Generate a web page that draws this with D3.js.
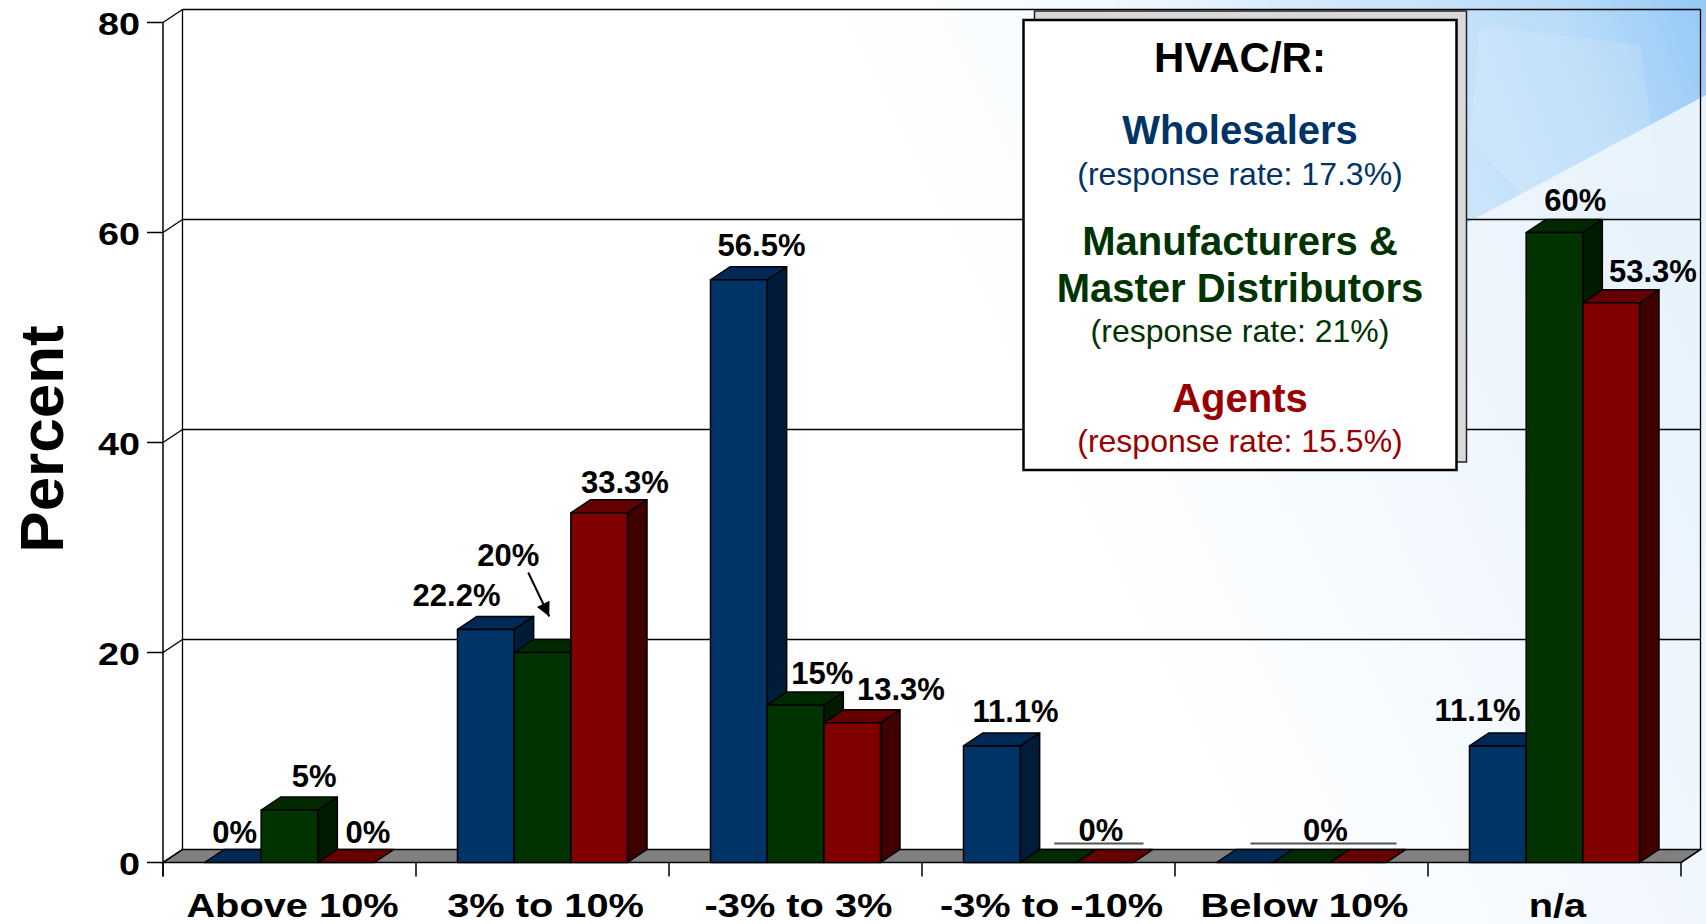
<!DOCTYPE html>
<html>
<head>
<meta charset="utf-8">
<script src="https://cdn.jsdelivr.net/npm/d3@7"></script>
<style>
  body { margin: 0; background: #fff; }
  svg { display: block; font-family: "Liberation Sans", Arial, sans-serif; }
</style>
</head>
<body>
<div id="chart"></div>
<script>
/* HVAC/R price change expectations - 3D clustered bars */

const categories = ["Above 10%", "3% to 10%", "-3% to 3%", "-3% to -10%", "Below 10%", "n/a"];
const seriesNames = ["Wholesalers", "Manufacturers &\nMaster Distributors", "Agents"];
const responseRates = ["17.3%", "21%", "15.5%"];
// bar heights as drawn
const wholesalers = [0, 22.2, 55.5, 11.1, 0, 11.1];
const manufacturers = [5, 20, 15, 0, 0, 60];
const agents = [0, 33.3, 13.3, 0, 0, 53.3];
// printed value labels
const wholesalerLabels = ["0%", "22.2%", "56.5%", "11.1%", "0%", "11.1%"];
const manufacturerLabels = ["5%", "20%", "15%", "0%", "0%", "60%"];
const agentLabels = ["0%", "33.3%", "13.3%", "0%", "0%", "53.3%"];
const yTicks = [0, 20, 40, 60, 80];

const series = [wholesalers, manufacturers, agents];
const seriesLabels = [wholesalerLabels, manufacturerLabels, agentLabels];

const width = 1706, height = 924;
const depthX = 19.5, depthY = -13; // 3d offset of the back wall

const frontColors = ["#003366", "#003300", "#800000"];
const topColors = ["#002a55", "#002900", "#640000"];
const sideColors = ["#001c38", "#001b00", "#400000"];
const legendColors = ["#003366", "#003300", "#990000"];

// hand placed label tweaks (like dragged labels in the original deck)
const labelNudge = {
  "0-0": [-8, 1], "0-1": [15, -2], "0-2": [12, 1],
  "1-0": [-39, -2], "1-1": [-44, -66], "1-2": [16, 1],
  "2-0": [13, -3], "2-1": [17, 0], "2-2": [39, -2],
  "3-0": [14, -3],
  "5-0": [-30, -4], "5-1": [11, -1], "5-2": [32, 0]
};

const svg = d3.select("#chart")
  .append("svg")
  .attr("width", width)
  .attr("height", height);

// background wash
const defs = svg.append("defs");
const wash = defs.append("linearGradient")
  .attr("id", "wash")
  .attr("gradientUnits", "userSpaceOnUse")
  .attr("x1", 1100).attr("y1", 600)
  .attr("x2", 1706).attr("y2", 300);
wash.append("stop").attr("offset", "0").attr("stop-color", "#ffffff");
wash.append("stop").attr("offset", "1").attr("stop-color", "#e6f2fc");

const sky = defs.append("linearGradient")
  .attr("id", "sky")
  .attr("gradientUnits", "userSpaceOnUse")
  .attr("x1", 1050).attr("y1", 250)
  .attr("x2", 1706).attr("y2", 0);
sky.append("stop").attr("offset", "0").attr("stop-color", "#ffffff").attr("stop-opacity", 0);
sky.append("stop").attr("offset", "0.45").attr("stop-color", "#d5e9fb");
sky.append("stop").attr("offset", "0.8").attr("stop-color", "#b9dcf9");
sky.append("stop").attr("offset", "1").attr("stop-color", "#94c9f6");

defs.append("marker")
  .attr("id", "arrow")
  .attr("viewBox", "0 0 10 10")
  .attr("refX", 10).attr("refY", 5)
  .attr("markerUnits", "userSpaceOnUse")
  .attr("markerWidth", 17).attr("markerHeight", 14)
  .attr("orient", "auto")
  .append("path")
  .attr("d", "M0,0 L10,5 L0,10 z")
  .attr("fill", "#000");

svg.append("rect").attr("width", width).attr("height", height).attr("fill", "url(#wash)");
svg.append("path")
  .attr("d", "M1000,0 L1706,0 L1706,95 L1450,232 L1200,330 L1000,330 Z")
  .attr("fill", "url(#sky)");
svg.append("path")
  .attr("d", "M1480,25 L1640,45 L1660,190 L1540,215 L1470,140 Z")
  .attr("fill", "#ffffff").attr("opacity", 0.12);

const x0 = d3.scaleBand()
  .domain(categories)
  .range([163, 1681])
  .paddingInner(0.328)
  .paddingOuter(0.164);

const x1 = d3.scaleBand()
  .domain(d3.range(series.length))
  .range([0, x0.bandwidth()]);

const y = d3.scaleLinear().domain([0, 80]).range([862.5, 22.5]);

const step = x0.step();
const plotLeft = 163, plotRight = 1681;

// floor
svg.append("path")
  .attr("d", `M${plotLeft},${y(0)} L${plotRight},${y(0)} L${plotRight + depthX},${y(0) + depthY} L${plotLeft + depthX},${y(0) + depthY} Z`)
  .attr("fill", "#808080")
  .attr("stroke", "#000")
  .attr("stroke-width", 1.5);

// back wall grid
const grid = svg.append("g").attr("stroke", "#000").attr("stroke-width", 1.3).attr("fill", "none");
grid.selectAll("line.h")
  .data(yTicks.filter(d => d > 0))
  .join("line")
  .attr("x1", plotLeft + depthX)
  .attr("x2", plotRight + depthX)
  .attr("y1", d => y(d) + depthY)
  .attr("y2", d => y(d) + depthY);
grid.selectAll("line.d")
  .data(yTicks)
  .join("line")
  .attr("x1", plotLeft)
  .attr("x2", plotLeft + depthX)
  .attr("y1", d => y(d))
  .attr("y2", d => y(d) + depthY);
grid.append("line")
  .attr("x1", plotLeft + depthX).attr("x2", plotLeft + depthX)
  .attr("y1", y(80) + depthY).attr("y2", y(0) + depthY);
grid.append("line")
  .attr("x1", plotRight + depthX).attr("x2", plotRight + depthX)
  .attr("y1", y(80) + depthY).attr("y2", y(0) + depthY);
grid.append("line")
  .attr("x1", plotRight).attr("x2", plotRight + depthX)
  .attr("y1", y(0)).attr("y2", y(0) + depthY);

// y axis
const yAxis = svg.append("g").attr("stroke", "#000").attr("stroke-width", 1.5);
yAxis.append("line")
  .attr("x1", plotLeft).attr("x2", plotLeft)
  .attr("y1", y(80)).attr("y2", y(0) + 14);
yAxis.selectAll("line.t")
  .data(yTicks)
  .join("line")
  .attr("x1", plotLeft - 16).attr("x2", plotLeft)
  .attr("y1", d => y(d)).attr("y2", d => y(d));

svg.append("g")
  .attr("font-size", 32)
  .attr("font-weight", "bold")
  .attr("text-anchor", "end")
  .selectAll("text")
  .data(yTicks)
  .join("text")
  .attr("transform", d => `translate(140,${y(d) + 12}) scale(1.18,1)`)
  .text(d => d);

// x axis ticks
svg.append("g")
  .attr("stroke", "#000").attr("stroke-width", 1.5)
  .selectAll("line")
  .data(d3.range(categories.length + 1))
  .join("line")
  .attr("x1", i => plotLeft + i * step)
  .attr("x2", i => plotLeft + i * step)
  .attr("y1", y(0)).attr("y2", y(0) + 14);

svg.append("g")
  .attr("font-size", 34)
  .attr("font-weight", "bold")
  .attr("text-anchor", "middle")
  .selectAll("text")
  .data(categories)
  .join("text")
  .attr("transform", d => `translate(${x0(d) + x0.bandwidth() / 2 + 3},917) scale(1.17,1)`)
  .text(d => d);

svg.append("text")
  .attr("transform", "translate(63,439) rotate(-90)")
  .attr("text-anchor", "middle")
  .attr("font-size", 62)
  .attr("font-weight", "bold")
  .text("Percent");

// bars
const bars = [];
categories.forEach((c, ci) => {
  series.forEach((s, si) => {
    bars.push({ ci, si, cat: c, value: s[ci], x: x0(c) + x1(si), w: x1.bandwidth() });
  });
});

const barG = svg.append("g")
  .attr("stroke", "#000")
  .attr("stroke-width", 1.5)
  .attr("stroke-linejoin", "round");

bars.forEach(b => {
  const g = barG.append("g");
  const yv = y(b.value), y0 = y(0);
  const x = b.x, w = b.w;
  if (b.value > 0) {
    g.append("path")
      .attr("d", `M${x + w},${yv} L${x + w + depthX},${yv + depthY} L${x + w + depthX},${y0 + depthY} L${x + w},${y0} Z`)
      .attr("fill", sideColors[b.si]);
  }
  g.append("path")
    .attr("d", `M${x},${yv} L${x + depthX},${yv + depthY} L${x + w + depthX},${yv + depthY} L${x + w},${yv} Z`)
    .attr("fill", topColors[b.si]);
  if (b.value > 0) {
    g.append("rect")
      .attr("x", x).attr("y", yv)
      .attr("width", w).attr("height", y0 - yv)
      .attr("fill", frontColors[b.si]);
  }
});

// value labels
const labelG = svg.append("g")
  .attr("font-size", 31)
  .attr("font-weight", "bold")
  .attr("text-anchor", "middle");

categories.forEach((c, ci) => {
  const vals = series.map(s => s[ci]);
  let si = 0;
  while (si < vals.length) {
    if (vals[si] === 0) {
      let end = si;
      while (end + 1 < vals.length && vals[end + 1] === 0) end++;
      if (end > si) {
        // run of empty bars gets one underlined label
        const xa = x0(c) + x1(si) + 34;
        const xb = x0(c) + x1(end) + x1.bandwidth() + 10;
        labelG.append("text")
          .attr("x", (xa + xb) / 2 + 2)
          .attr("y", 841)
          .text(seriesLabels[si][ci]);
        labelG.append("line")
          .attr("x1", xa).attr("x2", xb)
          .attr("y1", 843.5).attr("y2", 843.5)
          .attr("stroke", "#555").attr("stroke-width", 2);
        si = end + 1;
        continue;
      }
    }
    const nudge = labelNudge[`${ci}-${si}`] || [0, 0];
    const lx = x0(c) + x1(si) + x1.bandwidth() / 2 + depthX / 2 + nudge[0];
    const ly = y(vals[si]) + depthY - 8 + nudge[1];
    labelG.append("text")
      .attr("x", lx)
      .attr("y", ly)
      .text(seriesLabels[si][ci]);
    if (ci === 1 && si === 1) {
      svg.append("line")
        .attr("x1", lx + 20).attr("y1", ly + 7)
        .attr("x2", lx + 41).attr("y2", ly + 51)
        .attr("stroke", "#000").attr("stroke-width", 2)
        .attr("marker-end", "url(#arrow)");
    }
    si++;
  }
});

// legend box
const legend = svg.append("g");
legend.append("rect")
  .attr("x", 1034.5).attr("y", 11)
  .attr("width", 432).attr("height", 451)
  .attr("fill", "#d9d9d9")
  .attr("stroke", "#222").attr("stroke-width", 1.5);
legend.append("rect")
  .attr("x", 1023.5).attr("y", 20)
  .attr("width", 433).attr("height", 450)
  .attr("fill", "#fff")
  .attr("stroke", "#000").attr("stroke-width", 2.5);

const lx = 1240;
legend.append("text")
  .attr("x", lx).attr("y", 71.5)
  .attr("text-anchor", "middle")
  .attr("font-size", 42).attr("font-weight", "bold")
  .text("HVAC/R:");

const nameBaselines = [[143.5], [255, 302], [411.5]];
const rateBaselines = [185, 341.5, 451.5];
seriesNames.forEach((name, i) => {
  name.split("\n").forEach((line, j) => {
    legend.append("text")
      .attr("x", lx).attr("y", nameBaselines[i][j])
      .attr("text-anchor", "middle")
      .attr("font-size", 40).attr("font-weight", "bold")
      .attr("fill", legendColors[i])
      .text(line);
  });
  legend.append("text")
    .attr("x", lx).attr("y", rateBaselines[i])
    .attr("text-anchor", "middle")
    .attr("font-size", 32)
    .attr("fill", legendColors[i])
    .text(`(response rate: ${responseRates[i]})`);
});
</script>
</body>
</html>
